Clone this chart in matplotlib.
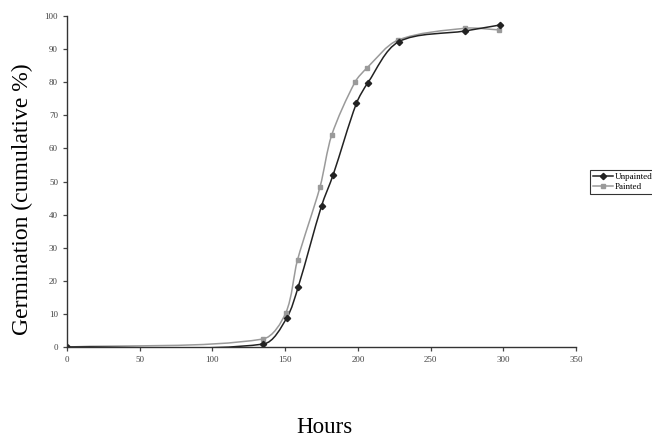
import matplotlib
matplotlib.use("Agg")
import numpy as np
import matplotlib.pyplot as plt
from matplotlib.path import Path
from matplotlib.patches import PathPatch
from matplotlib.lines import Line2D

# cumulative germination
hours_unpainted = [0, 135, 151, 159, 175, 183, 199, 207, 228, 274, 298]
unpainted = [0, 0.9, 8.7, 18.2, 42.6, 52.0, 73.6, 79.9, 92.2, 95.5, 97.3]
hours_painted = [0, 134.5, 150.5, 158.5, 174, 182, 198, 206.5, 227.5, 274, 297]
painted = [0, 2.4, 10.4, 26.3, 48.4, 64.0, 80.0, 84.4, 92.7, 96.3, 95.8]

x_ticks = [0, 50, 100, 150, 200, 250, 300, 350]
y_ticks = [0, 10, 20, 30, 40, 50, 60, 70, 80, 90, 100]


def smooth_path(ax, xs, ys, k=0.3):
    # smoothed line like Excel's: bezier segments through the points,
    # tangents worked out in screen space
    pts = ax.transData.transform(np.column_stack([xs, ys]))
    n = len(pts)
    tang = []
    for i in range(n):
        d = pts[min(i + 1, n - 1)] - pts[max(i - 1, 0)]
        tang.append(d / np.hypot(*d))
    verts = [pts[0]]
    codes = [Path.MOVETO]
    for i in range(n - 1):
        seg = np.hypot(*(pts[i + 1] - pts[i]))
        verts += [pts[i] + tang[i] * seg * k,
                  pts[i + 1] - tang[i + 1] * seg * k,
                  pts[i + 1]]
        codes += [Path.CURVE4] * 3
    verts = ax.transData.inverted().transform(np.array(verts))
    return Path(verts, codes)


plt.rcParams['font.family'] = ['Liberation Serif', 'DejaVu Serif']

fig = plt.figure(figsize=(6.52, 4.48), dpi=100)
ax = fig.add_axes([0.1028, 0.2254, 0.7806, 0.7389])
ax.set_xlim(0, 350)
ax.set_ylim(0, 100)

c_p = '#9a9a9a'
c_u = '#222222'
ax.add_patch(PathPatch(smooth_path(ax, hours_painted, painted), fill=False,
                       edgecolor=c_p, lw=1.1))
ax.plot(hours_painted, painted, ls='none', color=c_p, marker='s', markersize=3.2)
ax.add_patch(PathPatch(smooth_path(ax, hours_unpainted, unpainted), fill=False,
                       edgecolor=c_u, lw=1.1))
ax.plot(hours_unpainted, unpainted, ls='none', color=c_u, marker='D', markersize=3.2)

ax.set_xlim(0, 350)
ax.set_ylim(0, 100)
ax.set_xticks(x_ticks)
ax.set_yticks(y_ticks)
ax.tick_params(labelsize=6.5, colors='#444444', length=3, width=0.9)
for s in ['top', 'right']:
    ax.spines[s].set_visible(False)
for s in ['left', 'bottom']:
    ax.spines[s].set_color('#333333')
    ax.spines[s].set_linewidth(1.0)

fig.text(0.034, 0.556, 'Germination (cumulative %)', rotation=90, fontsize=17,
         ha='center', va='center')
fig.text(0.498, 0.045, 'Hours', fontsize=16.5, ha='center', va='center')

handles = [Line2D([], [], color=c_u, lw=1.1, marker='D', markersize=3.2),
           Line2D([], [], color=c_p, lw=1.1, marker='s', markersize=3.2)]
leg = fig.legend(handles, ['Unpainted', 'Painted'], loc='center left',
                 bbox_to_anchor=(0.905, 0.594), fontsize=6.5, frameon=True,
                 fancybox=False, handlelength=2.2, borderpad=0.3,
                 labelspacing=0.2, handletextpad=0.2, borderaxespad=0)
leg.get_frame().set_edgecolor('black')
leg.get_frame().set_linewidth(0.8)

fig.savefig('out.png', dpi=100)
